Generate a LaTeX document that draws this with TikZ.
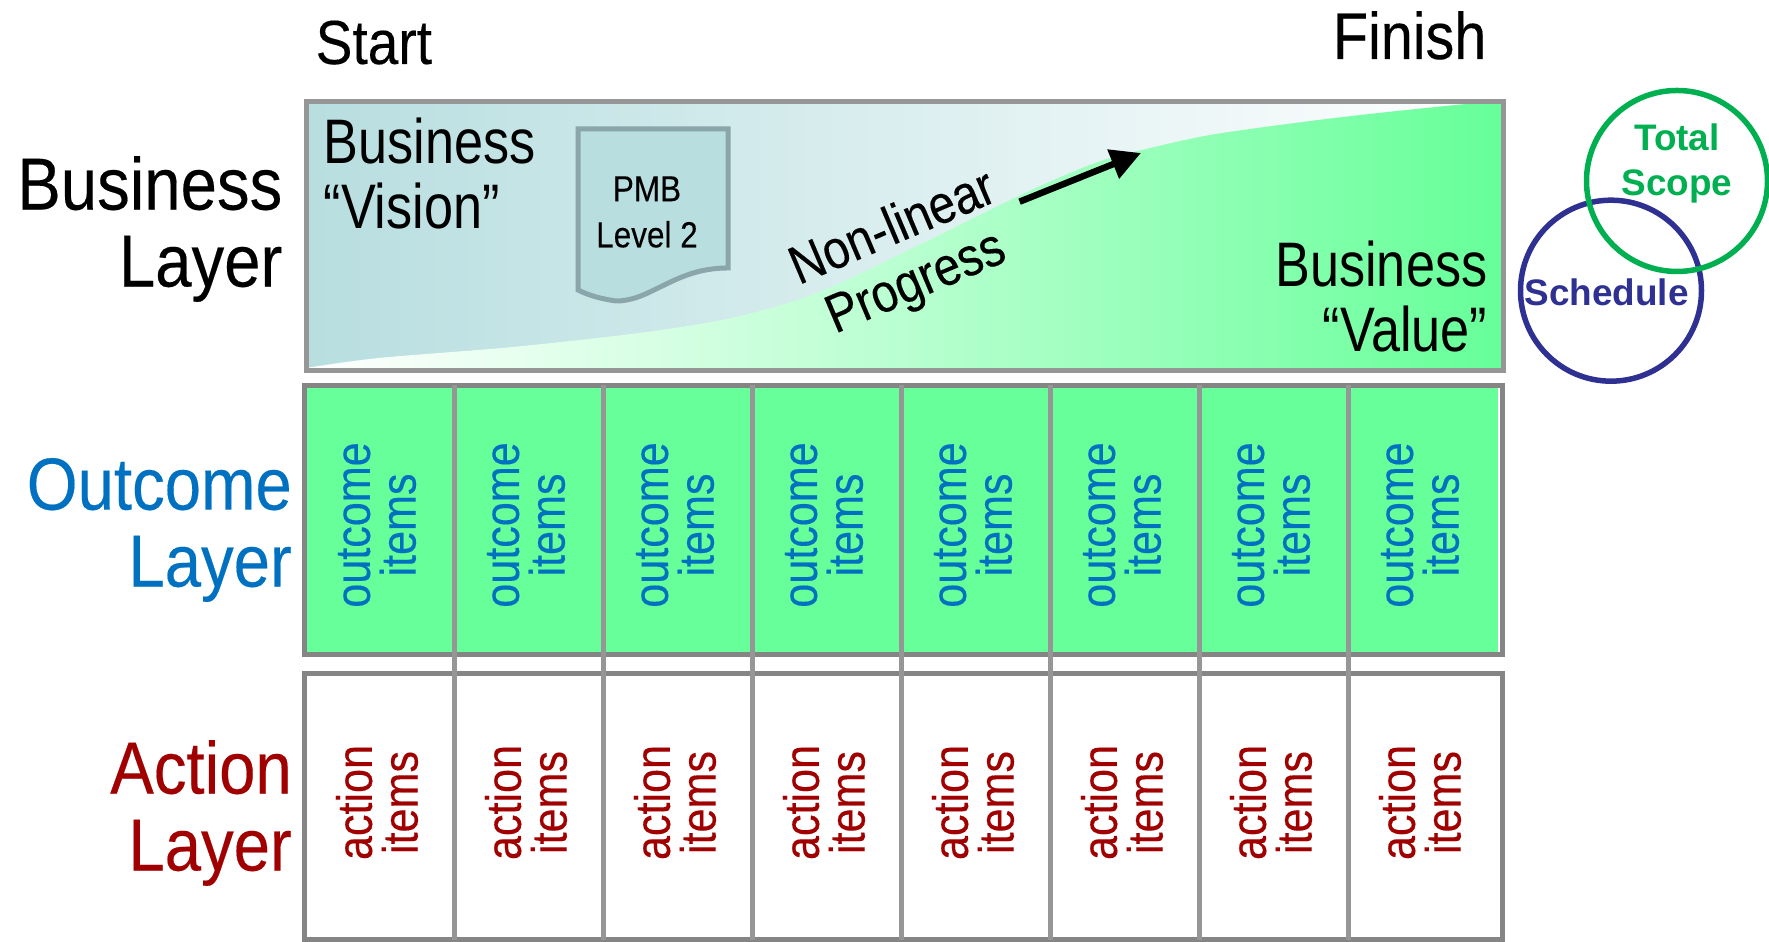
\documentclass[tikz,border=0pt]{standalone}
\usepackage{fontspec}
\setmainfont{Liberation Sans}
\newfontfamily\narrowfont[FakeStretch=0.87,FakeBold=0.25]{Liberation Sans}
\newfontfamily\layerfont[FakeStretch=0.885,FakeBold=0.25]{Liberation Sans}
\newfontfamily\thinfont[FakeStretch=0.83]{Liberation Sans}
\usetikzlibrary{arrows.meta}
\begin{document}
\begin{tikzpicture}
  % Définir les couleurs du schéma
  \definecolor{framegray}{RGB}{150,150,150}
  \definecolor{columngray}{RGB}{133,133,133}
  \definecolor{visionblue}{RGB}{184,222,224}
  \definecolor{pmbgray}{RGB}{138,166,170}
  \definecolor{valuegreen}{RGB}{102,255,153}
  \definecolor{outcomeblue}{RGB}{0,112,192}
  \definecolor{actionred}{RGB}{160,0,0}
  \definecolor{scopegreen}{RGB}{0,176,80}
  \definecolor{scheduleblue}{RGB}{46,49,146}
  \tikzset{
    layerlabel/.style={inner sep=0, align=right, font=\layerfont\fontsize{21}{21.9}\selectfont},
    boxlabel/.style={inner sep=0, font=\thinfont\fontsize{17.9}{18.5}\selectfont},
    itemlabel/.style={inner sep=0, rotate=90, align=center, font=\narrowfont\fontsize{14.1}{13}\selectfont},
    frameline/.style={framegray, line width=0.05cm},
    columnline/.style={columngray, line width=0.05cm},
    circlelabel/.style={inner sep=0, align=center, font=\bfseries\fontsize{10.5}{12.8}\selectfont}
  }
  \useasboundingbox (0,0) rectangle (17.69,9.42);

  % Dessiner la couche du haut
  \shade[left color=visionblue, right color=white] (3.06,5.715) rectangle (15.035,8.405);
  \shade[left color=white, right color=valuegreen, middle color=valuegreen!46!white]
    plot[smooth] coordinates {(3.06,5.74) (3.79,5.84) (5.13,5.95) (6.47,6.10) (7.36,6.25) (8.17,6.49) (9.15,6.95) (10.00,7.37) (10.49,7.60) (10.98,7.80) (11.42,7.92) (12.16,8.08) (13.43,8.25) (14.66,8.38) (15.035,8.405)}
    -- (15.035,5.715) -- cycle;
  \draw[frameline] (3.06,5.715) rectangle (15.035,8.405);

  % Dessiner le document PMB
  \draw[pmbgray, fill=visionblue, line width=0.05cm] (5.78,8.13) -- (7.28,8.13) -- (7.28,6.74)
    .. controls (6.95,6.74) and (6.75,6.62) .. (6.54,6.52)
    .. controls (6.42,6.46) and (6.30,6.41) .. (6.16,6.41)
    .. controls (6.02,6.43) and (5.90,6.46) .. (5.78,6.52) -- cycle;
  \node[inner sep=0, align=center, font=\narrowfont\fontsize{10.3}{13.1}\selectfont] at (6.47,7.30) (pmb) {PMB\\Level 2};

  % Dessiner les colonnes
  \fill[valuegreen] (3.04,2.872) rectangle (14.98,5.565);
  \draw[columnline] (3.04,2.872) rectangle (15.02,5.565);
  \draw[columnline] (3.04,0.02) rectangle (15.02,2.685);
  \foreach \i in {0,...,6} {
    \draw[frameline] ({4.54+1.49*\i},0.02) -- ({4.54+1.49*\i},5.565);
  }
  \foreach \i in {0,...,7} {
    \node[itemlabel, outcomeblue] at ({3.77+1.49*\i},4.17) (outcome\i) {outcome\\items};
    \node[itemlabel, actionred] at ({3.77+1.49*\i},1.395) (action\i) {action\\items};
  }

  % Ajouter les titres
  \node[inner sep=0, anchor=base west, font=\layerfont\fontsize{17.7}{17.7}\selectfont] at (3.15,8.78) (start) {Start};
  \node[inner sep=0, anchor=base east, font=\narrowfont\fontsize{18.8}{18.8}\selectfont] at (14.87,8.83) (finish) {Finish};
  \node[layerlabel, anchor=east] at (2.83,7.13) (businesslayer) {Business\\Layer};
  \node[layerlabel, anchor=east, outcomeblue] at (2.925,4.12) (outcomelayer) {Outcome\\Layer};
  \node[layerlabel, anchor=east, actionred] at (2.925,1.29) (actionlayer) {Action\\Layer};
  \node[boxlabel, align=left, anchor=north west] at (3.23,8.243) (vision) {Business\\“Vision”};
  \node[boxlabel, align=right, anchor=south east] at (14.88,5.89) (value) {Business\\“Value”};

  % Ajouter la flèche de progression
  \node[inner sep=0, rotate=23, align=center, font=\narrowfont\fontsize{15.4}{16.8}\selectfont] at (9.05,6.85) (progress) {Non-linear\\Progress};
  \coordinate (arrowstart) at (10.196,7.403);
  \coordinate (arrowend) at (11.41,7.89);
  \draw[line width=0.065cm, -{Triangle[length=0.3cm,width=0.3cm]}] (arrowstart) -- (arrowend);

  % Dessiner les cercles
  \node[draw=scheduleblue, circle, line width=0.055cm, inner sep=0, minimum size=1.81cm] at (16.11,6.513) (schedulecircle) {};
  \node[draw=scopegreen, circle, line width=0.055cm, inner sep=0, minimum size=1.81cm] at (16.77,7.61) (scopecircle) {};
  \node[circlelabel, scopegreen] at (16.77,7.79) (scope) {Total\\Scope};
  \node[circlelabel, scheduleblue] at (16.066,6.50) (schedule) {Schedule};
\end{tikzpicture}
\end{document}
